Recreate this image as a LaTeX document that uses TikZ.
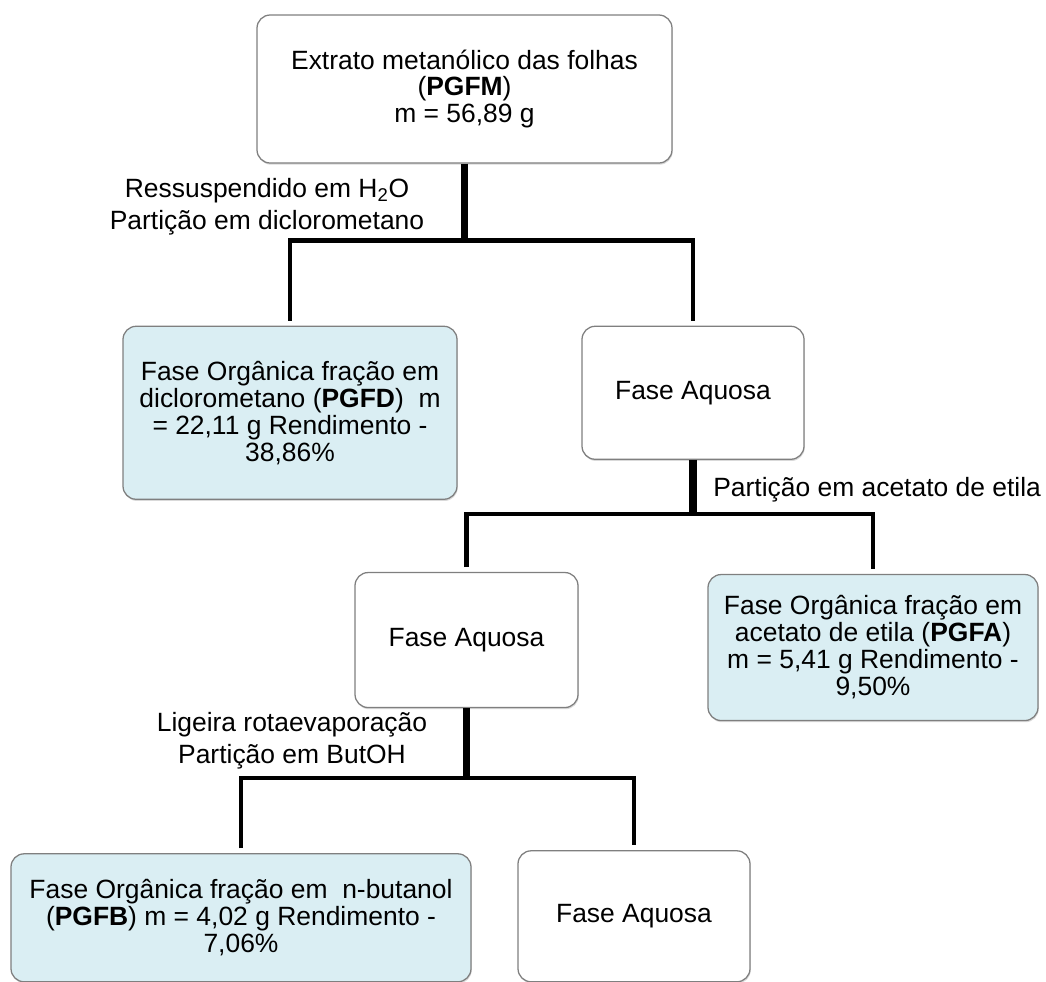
\documentclass[tikz,border=0pt]{standalone}
\usepackage{fontspec}
\setmainfont{Liberation Sans}
\usepackage{tikz}
\usetikzlibrary{positioning, calc, shadows}

\definecolor{azulclaro}{HTML}{DAEEF3}
\definecolor{bordacinza}{HTML}{7F7F7F}

\begin{document}
\begin{tikzpicture}[node distance=2cm, auto]

        % --- Styles ---
        \tikzstyle{fase} = [rectangle, rounded corners=0.33cm, draw=bordacinza, line width=0.9pt, fill=white, align=center, inner sep=0pt, font=\fontsize{18.8pt}{19.2pt}\selectfont, drop shadow={shadow xshift=0.5pt, shadow yshift=-1.2pt, opacity=0.3}]
        \tikzstyle{organica} = [fase, fill=azulclaro]
        \tikzstyle{tronco} = [line width=0.1875cm]
        \tikzstyle{ramo} = [line width=0.1125cm, shorten <=0.12cm, shorten >=0.12cm]
        \tikzstyle{rotulo} = [align=center, inner sep=0pt, font=\fontsize{18.8pt}{22.8pt}\selectfont]

        \useasboundingbox (0,0) rectangle (26.15,-24.525);

        % --- Nodes ---

        % 1. Extrato
        \node (pgfm) [fase, minimum width=10.375cm, minimum height=3.7cm] at (11.6125,-2.225) {Extrato metanólico das folhas \\ (\textbf{PGFM}) \\ m = 56,89 g};

        % 2. Primeira particao
        \node (pgfd) [organica, minimum width=8.35cm, minimum height=4.325cm, below=4.05cm of pgfm, xshift=-4.3625cm] {Fase Orgânica fração em \\ diclorometano (\textbf{PGFD})~ m \\ = 22,11 g Rendimento - \\ 38,86\%};
        \node (aquosa1) [fase, minimum width=5.55cm, minimum height=3.325cm, below=4.05cm of pgfm, xshift=5.7125cm] {Fase Aquosa};

        % 3. Segunda particao
        \node (aquosa2) [fase, minimum width=5.575cm, minimum height=3.375cm, below=2.8cm of aquosa1, xshift=-5.6625cm] {Fase Aquosa};
        \node (pgfa) [organica, minimum width=8.25cm, minimum height=3.65cm, below=2.85cm of aquosa1, xshift=4.5cm] {Fase Orgânica fração em \\ acetato de etila (\textbf{PGFA}) \\ m = 5,41 g Rendimento - \\ 9,50\%};

        % 4. Terceira particao
        \node (pgfb) [organica, minimum width=11.5cm, minimum height=3.2cm, below=3.625cm of aquosa2, xshift=-5.6375cm] {Fase Orgânica fração em~ n-butanol \\ (\textbf{PGFB}) m = 4,02 g Rendimento - \\ 7,06\%};
        \node (aquosa3) [fase, minimum width=5.8cm, minimum height=3.275cm, below=3.55cm of aquosa2, xshift=4.1875cm] {Fase Aquosa};

        % --- Junctions ---
        \coordinate (j1) at ($(pgfm.south)+(0,-1.925)$);
        \coordinate (j2) at ($(aquosa1.south)+(0,-1.35)$);
        \coordinate (j3) at ($(aquosa2.south)+(0,-1.75)$);

        % --- Connectors ---
        \draw[tronco] (pgfm.south) -- (j1);
        \draw[ramo] (pgfd.north) |- (j1) -| (aquosa1.north);
        \draw[tronco] (aquosa1.south) -- (j2);
        \draw[ramo] (aquosa2.north) |- (j2) -| (pgfa.north);
        \draw[tronco] (aquosa2.south) -- (j3);
        \draw[ramo] (pgfb.north) |- (j3) -| (aquosa3.north);

        % --- Labels ---
        \node (lab1) [rotulo] at ($(j1)+(-4.9375,0.85)$) {Ressuspendido em H\textsubscript{2}O \\ Partição em diclorometano};
        \node (lab2) [rotulo, anchor=west] at ($(j2)+(0.5,0.6)$) {Partição em acetato de etila};
        \node (lab3) [rotulo] at ($(j3)+(-4.3625,0.925)$) {Ligeira rotaevaporação \\ Partição em ButOH};
\end{tikzpicture}
\end{document}
